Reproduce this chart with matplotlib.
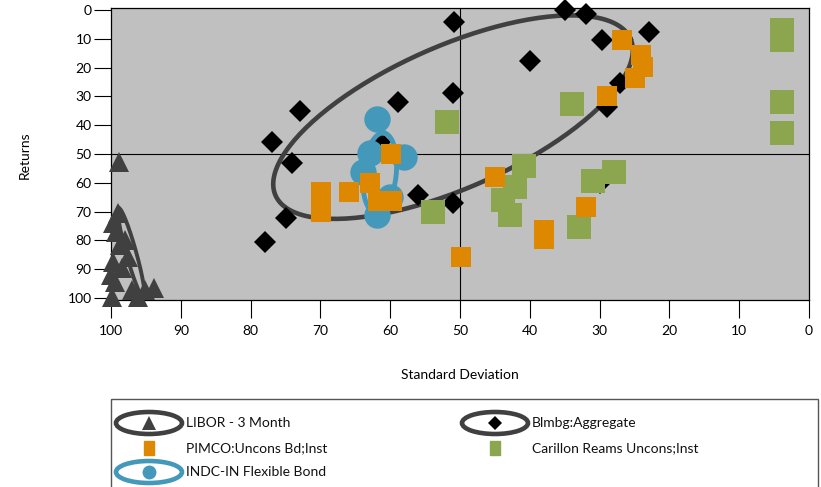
import numpy as np
import matplotlib
matplotlib.use('Agg')
import matplotlib.pyplot as plt
from matplotlib.patches import Ellipse, Rectangle

plt.rcParams['font.family'] = ['Lato', 'DejaVu Sans']

# Data (x = standard deviation, y = returns)
libor_sd = [98.9, 99.0, 99.7, 99.3, 98.0, 98.7, 97.5, 99.7, 98.4, 100.0, 99.4, 99.9, 97.0, 96.1, 95.1, 93.8]
libor_ret = [52.8, 70.6, 74.1, 77.1, 79.9, 81.6, 85.7, 87.4, 89.6, 92.0, 94.3, 99.5, 97.2, 99.5, 97.2, 96.6]

blmbg_sd = [50.9, 35.0, 31.9, 29.7, 22.9, 40.0, 51.0, 58.9, 72.9, 61.5, 76.9, 74.1, 74.9, 77.9, 56.0, 51.0, 29.9, 28.9, 27.1]
blmbg_ret = [4.2, 0.0, 1.4, 10.4, 7.6, 17.7, 28.8, 31.9, 35.1, 45.8, 45.8, 53.1, 72.2, 80.6, 64.2, 67.0, 60.1, 33.7, 25.3]

pimco_sd = [26.8, 24.0, 23.8, 24.9, 28.9, 45.0, 32.0, 38.0, 38.0, 49.9, 59.9, 69.9, 69.9, 65.9, 62.9, 61.7, 59.8]
pimco_ret = [10.4, 15.6, 19.7, 23.7, 29.8, 58.1, 68.3, 76.4, 79.5, 85.7, 50.0, 63.3, 70.2, 63.3, 60.2, 66.3, 66.3]

carillon_sd = [51.9, 33.9, 40.9, 42.1, 43.9, 42.9, 53.9, 30.9, 27.9, 32.9, 3.9, 3.9, 3.9, 3.9]
carillon_ret = [39.0, 32.7, 54.1, 61.4, 66.0, 71.2, 70.0, 59.3, 56.1, 75.2, 6.9, 10.4, 31.8, 42.8]

indc_sd = [61.9, 62.9, 58.0, 63.9, 60.0, 61.9]
indc_ret = [38.0, 49.8, 50.9, 56.1, 65.0, 71.2]

# ellipse rings: centre and two half-axis vectors (data units)
libor_ring = [(97.1, 84.4), (1.79, -15.6), (-0.69, -0.46)]
blmbg_ring = [(51.0, 37.2), (-25.43, -27.19), (-4.10, 22.57)]
indc_ring = [(61.5, 56.6), (-0.57, -13.9), (-2.36, 0.56)]

ticks = [0, 10, 20, 30, 40, 50, 60, 70, 80, 90, 100]

GREY = '#404040'
ORANGE = '#DD8800'
GREEN = '#8BA64E'
BLUE = '#4499BB'


def ring_xy(ring):
    """Points of an ellipse given centre and half-axis vectors."""
    (cx, cy), (ux, uy), (vx, vy) = ring
    t = np.linspace(0, 2 * np.pi, 200)
    return cx + ux * np.cos(t) + vx * np.sin(t), cy + uy * np.cos(t) + vy * np.sin(t)


W, H = 821, 487
fig = plt.figure(figsize=(W / 100, H / 100), dpi=100)
ax = fig.add_axes([111 / W, (H - 300) / H, 698 / W, 292 / H])
ax.set_facecolor('#C0C0C0')
ax.set_xlim(100, 0)
ax.set_ylim(100.7, -0.7)
ax.set_xticks(ticks)
ax.set_yticks(ticks)
ax.tick_params(axis='y', direction='out', length=12, width=0.8, pad=2, labelsize=10)
ax.tick_params(axis='x', direction='out', length=13, width=0.8, pad=5, labelsize=10)
for s in ax.spines.values():
    s.set_linewidth(0.9)
    s.set_color('black')

# crosshair
ax.axvline(50, color='black', lw=0.8, zorder=1)
ax.axhline(50, color='black', lw=0.8, zorder=1)

# LIBOR
x, y = ring_xy(libor_ring)
ax.plot(x, y, color=GREY, lw=2.8, zorder=2)
ax.plot(libor_sd, libor_ret, '^', color=GREY, ms=14, mew=0, clip_on=False, zorder=3)

# Blmbg aggregate
x, y = ring_xy(blmbg_ring)
ax.plot(x, y, color=GREY, lw=3.3, zorder=2)
ax.plot(blmbg_sd, blmbg_ret, 'D', color='black', ms=11, mew=0, clip_on=False, zorder=3)

# INDC
x, y = ring_xy(indc_ring)
ax.plot(x, y, color=BLUE, lw=3.5, zorder=4)
ax.plot(indc_sd, indc_ret, 'o', color=BLUE, ms=19, mew=0, zorder=5)

# Carillon and PIMCO
ax.plot(carillon_sd, carillon_ret, 's', color=GREEN, ms=17, mew=0, zorder=6)
ax.plot(pimco_sd, pimco_ret, 's', color=ORANGE, ms=15, mew=0, zorder=7)

fig.text(25 / W, 1 - 155 / H, 'Returns', rotation=90, ha='center', va='center', fontsize=10)
fig.text(460 / W, 1 - 375 / H, 'Standard Deviation', ha='center', va='center', fontsize=10)

# legend drawn in figure pixel units
lg = fig.add_axes([110 / W, 0, 708 / W, 89 / H])
lg.set_xlim(110, 818)
lg.set_ylim(487, 398)
lg.axis('off')
lg.add_patch(Rectangle((110.5, 398.5), 707, 120, fill=False, ec='#555555', lw=1, clip_on=False))

rows = [423, 448, 472]
cols = [149, 495]
entries = [
    ('LIBOR - 3 Month', 0, 0, GREY, '^', GREY),
    ('Blmbg:Aggregate', 1, 0, GREY, 'D', 'black'),
    ('PIMCO:Uncons Bd;Inst', 0, 1, None, 's', ORANGE),
    ('Carillon Reams Uncons;Inst', 1, 1, None, 's', GREEN),
    ('INDC-IN Flexible Bond', 0, 2, BLUE, 'o', BLUE),
]
for label, c, r, ring_col, mk, mcol in entries:
    cx, cy = cols[c], rows[r]
    if ring_col:
        lg.add_patch(Ellipse((cx, cy), 66, 22, fill=False, ec=ring_col, lw=3.3, clip_on=False))
        lg.plot([cx], [cy], mk, color=mcol, ms=10 if mk != 'D' else 7, mew=0, clip_on=False)
    else:
        lg.add_patch(Rectangle((cx - 5, cy - 7), 10, 14, color=mcol, clip_on=False))
    lg.text(cx + 37, cy, label, ha='left', va='center', fontsize=10, color='#111111')

fig.savefig('out.png', dpi=100)
